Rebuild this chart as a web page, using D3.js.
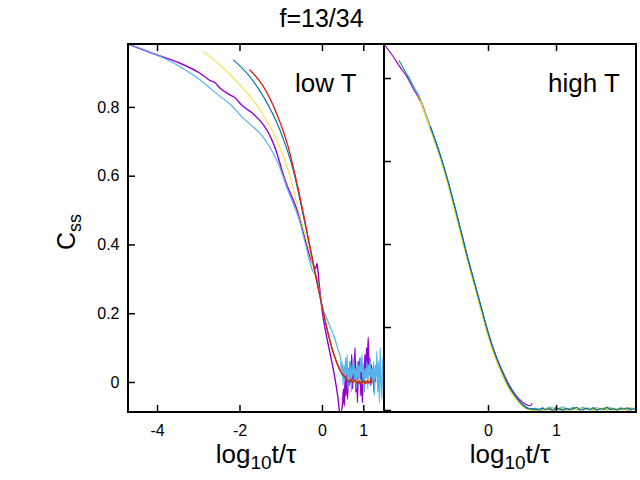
<!DOCTYPE html>
<html>
<head>
<meta charset="utf-8">
<script src="https://cdn.jsdelivr.net/npm/d3@7"></script>
<style>
  body { margin: 0; background: #fff; }
  text { font-family: "Liberation Sans", Arial, Helvetica, sans-serif; fill: #000; }
</style>
</head>
<body>
<script>
// ---- data ----

// left panel (low T), [log10 t/tau, C_ss]
var lowPurple = [
  [-4.70,0.983],[-4.0,0.951],[-3.44,0.927],[-2.96,0.898],[-2.7,0.876],[-2.6,0.871],[-2.47,0.854],
  [-2.2,0.833],[-2.1,0.826],[-1.99,0.811],[-1.85,0.796],[-1.7,0.783],[-1.55,0.766],[-1.42,0.748],
  [-1.3,0.725],[-1.18,0.694],[-1.1,0.668],[-1.02,0.636],[-0.95,0.607],[-0.86,0.575],[-0.7,0.53],
  [-0.55,0.48],[-0.4,0.41],[-0.25,0.35],[-0.15,0.33],[-0.12,0.345],[-0.08,0.30],[0.0,0.21],
  [0.1,0.14],[0.2,0.08],[0.3,0.02],[0.38,-0.04],[0.44,-0.095],
  [0.50,-0.06],[0.52,-0.02],[0.54,-0.07],[0.56,0.01],[0.58,-0.04],[0.60,0.03],[0.62,-0.05],
  [0.64,0.04],[0.66,-0.01],[0.68,0.06],[0.70,0.0],[0.72,0.08],[0.74,-0.02],[0.76,0.05],
  [0.78,0.01],[0.80,0.10],[0.82,-0.03],[0.84,0.04],[0.86,-0.06],[0.88,0.06],[0.90,0.02],
  [0.92,0.07],[0.94,-0.04],[0.96,0.03],[0.98,-0.06],[1.00,0.05],[1.02,0.0],[1.04,0.08],
  [1.06,0.02],[1.08,0.10],[1.10,0.04],[1.12,0.13],[1.14,0.03],[1.16,0.07],[1.18,-0.01],
  [1.20,0.05],[1.22,0.0],[1.24,0.04],[1.26,-0.03],[1.28,0.02],[1.30,0.0]
];
var lowLightBlue = [
  [-4.70,0.983],[-4.0,0.951],[-3.44,0.917],[-2.96,0.879],[-2.47,0.83],[-2.2,0.805],[-1.99,0.777],
  [-1.75,0.75],[-1.5,0.723],[-1.3,0.69],[-1.1,0.646],[-0.95,0.60],[-0.86,0.568],[-0.7,0.52],
  [-0.55,0.47],[-0.4,0.4],[-0.25,0.33],[-0.1,0.29],[0.0,0.22],[0.1,0.19],[0.2,0.16],[0.3,0.13],
  [0.4,0.09],[0.45,0.07],
  [0.47,0.02],[0.49,0.06],[0.51,-0.01],[0.53,0.05],[0.55,0.0],[0.57,0.07],[0.59,0.02],
  [0.61,0.08],[0.63,-0.02],[0.65,0.04],[0.67,0.01],[0.69,0.06],[0.71,-0.03],[0.73,0.05],
  [0.75,0.02],[0.77,0.07],[0.79,0.0],[0.81,0.04],[0.83,-0.02],[0.85,0.06],[0.87,0.01],
  [0.89,0.05],[0.91,-0.01],[0.93,0.07],[0.95,0.03],[0.97,0.08],[0.99,0.0],[1.01,0.05],
  [1.03,-0.03],[1.05,0.04],[1.07,0.01],[1.09,0.06],[1.11,-0.02],[1.13,0.05],[1.15,0.02],
  [1.17,0.07],[1.19,-0.01],[1.21,0.04],[1.23,0.0],[1.25,0.06],[1.27,-0.04],[1.29,0.05],
  [1.31,0.01],[1.33,0.09],[1.35,-0.03],[1.37,0.06],[1.39,-0.06],[1.41,0.10],[1.43,0.0],
  [1.45,-0.05],[1.47,0.07],[1.49,-0.02]
];
var lowYellow = [
  [-2.88,0.961],[-2.47,0.922],[-1.99,0.864],[-1.5,0.791],[-1.1,0.704],[-0.78,0.6],[-0.55,0.49],
  [-0.3,0.38],[-0.15,0.3],[0.0,0.22],[0.15,0.145],[0.3,0.08],[0.45,0.035],[0.6,0.012],
  [0.7,0.006],[0.8,0.0],[0.9,0.008],[1.0,-0.004],[1.1,0.006],[1.2,0.0]
];
var lowDarkBlue = [
  [-2.15,0.937],[-1.82,0.898],[-1.42,0.83],[-1.02,0.733],[-0.7,0.617],[-0.5,0.51],[-0.3,0.395],
  [-0.15,0.305],[0.0,0.22],[0.15,0.14],[0.3,0.075],[0.45,0.03],[0.6,0.008],[0.7,0.0],
  [0.8,0.005],[0.9,-0.004],[1.0,0.004],[1.1,-0.003],[1.2,0.002]
];
var lowRed = [
  [-1.76,0.909],[-1.42,0.859],[-1.1,0.781],[-0.82,0.684],[-0.6,0.575],[-0.45,0.49],[-0.3,0.4],
  [-0.15,0.31],[0.0,0.222],[0.15,0.14],[0.3,0.075],[0.45,0.032],[0.6,0.01],[0.65,0.0],
  [0.7,0.008],[0.75,-0.002],[0.8,0.006],[0.85,-0.004],[0.9,0.003],[0.95,-0.006],[1.0,0.002],
  [1.05,-0.005],[1.1,0.004],[1.15,-0.003],[1.19,0.012],[1.21,-0.004]
];

// right panel (high T)
var highPurple = [
  [-1.53,0.882],[-1.4,0.853],[-1.3,0.828],[-1.2,0.805],[-1.1,0.775],[-1.0,0.745],[-0.9,0.701],
  [-0.8,0.657],[-0.7,0.608],[-0.6,0.555],[-0.5,0.495],[-0.4,0.432],[-0.3,0.368],[-0.2,0.308],
  [-0.1,0.248],[0.0,0.189],[0.1,0.139],[0.2,0.098],[0.3,0.064],[0.4,0.038],[0.5,0.02],
  [0.55,0.014],[0.6,0.011],[0.63,0.01],[0.65,0.017]
];
var tailX = [0.7,0.75,0.8,0.85,0.9,0.95,1.0,1.05,1.1,1.15,1.2,1.25,1.3,1.35,1.4,1.45,1.5,
  1.55,1.6,1.65,1.7,1.75,1.8,1.85,1.9,1.95,2.0,2.05,2.1,2.15,2.18];
var highGreen = [
  [-1.31,0.843],[-1.2,0.81],[-1.1,0.78],[-1.0,0.75],[-0.9,0.705],[-0.8,0.66],[-0.7,0.612],
  [-0.6,0.556],[-0.5,0.495],[-0.4,0.43],[-0.3,0.365],[-0.2,0.305],[-0.1,0.245],[0.0,0.185],
  [0.1,0.135],[0.2,0.095],[0.3,0.06],[0.4,0.035],[0.5,0.015],[0.6,0.004]
];
var highGreenTail = [0.001,0.003,0.0,0.004,0.002,0.005,0.001,0.003,0.0,0.004,0.002,0.006,0.001,
  0.003,0.0,0.004,0.002,0.005,0.001,0.003,0.004,0.0,0.005,0.002,0.003,0.001,0.004,0.002,0.005,0.001,0.003];
var highLightBlue = [
  [-1.17,0.806],[-1.1,0.782],[-1.0,0.752],[-0.9,0.708],[-0.8,0.663],[-0.7,0.615],[-0.6,0.56],
  [-0.5,0.498],[-0.4,0.434],[-0.3,0.368],[-0.2,0.307],[-0.1,0.247],[0.0,0.187],[0.1,0.136],
  [0.2,0.094],[0.3,0.058],[0.4,0.032],[0.5,0.013],[0.6,0.003]
];
var highLightBlueTail = [0.004,0.001,0.006,0.002,0.007,0.003,0.0,0.005,0.008,0.002,0.004,0.001,
  0.006,0.003,0.007,0.001,0.005,0.002,0.006,0.0,0.004,0.007,0.002,0.005,0.001,0.006,0.003,0.004,0.0,0.005,0.002];
var highOrange = [
  [-1.03,0.758],[-1.0,0.748],[-0.9,0.703],[-0.8,0.657],[-0.7,0.608],[-0.6,0.552],[-0.5,0.49],
  [-0.4,0.426],[-0.3,0.361],[-0.2,0.301],[-0.1,0.241],[0.0,0.181],[0.1,0.131],[0.2,0.091],
  [0.3,0.056],[0.4,0.031],[0.5,0.012],[0.6,0.002]
];
var highOrangeTail = [0.0,0.003,-0.001,0.002,0.004,0.0,0.003,0.001,0.005,-0.001,0.002,0.004,0.0,
  0.003,0.001,0.005,0.002,-0.001,0.003,0.004,0.001,0.002,0.005,0.0,0.003,0.001,0.004,-0.001,0.002,0.003,0.0];
var highYellow = [
  [-1.0,0.746],[-0.9,0.7],[-0.8,0.654],[-0.7,0.604],[-0.6,0.548],[-0.5,0.486],[-0.4,0.421],
  [-0.3,0.357],[-0.2,0.297],[-0.1,0.237],[0.0,0.177],[0.1,0.127],[0.2,0.087],[0.3,0.053],
  [0.4,0.028],[0.5,0.01],[0.6,0.0]
];
var highYellowTail = [-0.002,0.002,0.0,0.005,-0.001,0.003,0.006,0.0,0.002,0.004,-0.002,0.003,0.001,
  0.006,0.0,0.002,0.005,-0.001,0.004,0.001,0.006,0.002,0.0,0.004,0.002,0.005,0.0,0.003,0.006,0.001,0.002];
var highDarkBlue = [
  [-0.85,0.683],[-0.8,0.661],[-0.7,0.613],[-0.6,0.558],[-0.5,0.497],[-0.4,0.433],[-0.3,0.367],
  [-0.2,0.307],[-0.1,0.247],[0.0,0.187],[0.1,0.137],[0.2,0.096],[0.3,0.06],[0.4,0.034],
  [0.5,0.014],[0.6,0.003]
];
var highDarkBlueTail = [0.002,0.0,0.004,0.001,0.003,-0.001,0.005,0.002,0.0,0.004,0.001,0.003,0.006,
  0.0,0.002,0.004,0.001,0.005,0.0,0.003,0.002,0.006,0.001,0.003,0.0,0.004,0.002,0.005,0.001,0.003,0.002];

// ticks
var lowXTicks = [-4, -2, 0, 1];
var highXTicks = [0, 1];
var lowYTicks = [0, 0.2, 0.4, 0.6, 0.8];
var lowYTickLabels = ["0", "0.2", "0.4", "0.6", "0.8"];
var highYTicks = [0, 0.2, 0.4, 0.6, 0.8];

// gnuplot-ish colours
var colors = {
  purple: "#9400d3", green: "#009e73", lightBlue: "#56b4e9", orange: "#e69f00",
  yellow: "#f0e442", darkBlue: "#0072b2", red: "#e51e10"
};

// ---- layout ----
var W = 640, H = 480;
var frameTop = 44, frameBottom = 412, frameLeft = 128, frameMid = 384, frameRight = 636;

var svg = d3.select("body").append("svg").attr("width", W).attr("height", H);

var xLow = d3.scaleLinear().domain([-4.703, 1.503]).range([frameLeft, frameMid]);
var yLow = d3.scaleLinear().domain([-0.0873, 0.983]).range([frameBottom, frameTop]);
var xHigh = d3.scaleLinear().domain([-1.529, 2.176]).range([frameMid, frameRight]);
var yHigh = d3.scaleLinear().domain([-0.0048, 0.882]).range([frameBottom, frameTop]);

function withTail(pts, ys) {
  return pts.concat(ys.map(function (y, i) { return [tailX[i], y]; }));
}

function addClip(id, x0, x1) {
  svg.append("clipPath").attr("id", id)
    .append("rect").attr("x", x0).attr("y", frameTop)
    .attr("width", x1 - x0).attr("height", frameBottom - frameTop);
}
addClip("clipLow", frameLeft, frameMid);
addClip("clipHigh", frameMid, frameRight);

function drawLine(g, pts, xs, ys, color, width) {
  var line = d3.line().x(function (d) { return xs(d[0]); }).y(function (d) { return ys(d[1]); })
    .curve(d3.curveMonotoneX);
  g.append("path").datum(pts)
    .attr("d", line)
    .attr("fill", "none")
    .attr("stroke", color)
    .attr("stroke-width", width)
    .attr("stroke-linejoin", "round");
}

var gLow = svg.append("g").attr("clip-path", "url(#clipLow)");
drawLine(gLow, lowPurple, xLow, yLow, colors.purple, 1.4);
drawLine(gLow, lowLightBlue, xLow, yLow, colors.lightBlue, 1.2);
drawLine(gLow, lowYellow, xLow, yLow, colors.yellow, 1.1);
drawLine(gLow, lowDarkBlue, xLow, yLow, colors.darkBlue, 1.1);
drawLine(gLow, lowRed, xLow, yLow, colors.red, 1.3);

var gHigh = svg.append("g").attr("clip-path", "url(#clipHigh)");
drawLine(gHigh, highPurple, xHigh, yHigh, colors.purple, 1.1);
drawLine(gHigh, withTail(highGreen, highGreenTail), xHigh, yHigh, colors.green, 1.1);
drawLine(gHigh, withTail(highLightBlue, highLightBlueTail), xHigh, yHigh, colors.lightBlue, 1.1);
drawLine(gHigh, withTail(highOrange, highOrangeTail), xHigh, yHigh, colors.orange, 1.1);
drawLine(gHigh, withTail(highYellow, highYellowTail), xHigh, yHigh, colors.yellow, 1.1);
drawLine(gHigh, withTail(highDarkBlue, highDarkBlueTail), xHigh, yHigh, colors.darkBlue, 1.2);

// ---- axes ----
function styleAxis(g) {
  g.select(".domain").remove();
  g.selectAll(".tick line").attr("stroke", "#000").attr("stroke-width", 1.5);
  g.selectAll(".tick text").style("font-size", "16px")
    .style("font-family", "'Liberation Sans', Arial, sans-serif").attr("fill", "#000");
}

var intFmt = function (d) { return d < 0 ? "-" + Math.abs(d) : String(d); };

svg.append("g").attr("transform", "translate(0," + frameBottom + ")")
  .call(d3.axisBottom(xLow).tickValues(lowXTicks).tickSize(-7).tickPadding(12.5).tickFormat(intFmt))
  .call(styleAxis);
svg.append("g").attr("transform", "translate(0," + frameTop + ")")
  .call(d3.axisTop(xLow).tickValues(lowXTicks).tickSize(-7).tickFormat(""))
  .call(styleAxis);
svg.append("g").attr("transform", "translate(0," + frameBottom + ")")
  .call(d3.axisBottom(xHigh).tickValues(highXTicks).tickSize(-7).tickPadding(12.5).tickFormat(intFmt))
  .call(styleAxis);
svg.append("g").attr("transform", "translate(0," + frameTop + ")")
  .call(d3.axisTop(xHigh).tickValues(highXTicks).tickSize(-7).tickFormat(""))
  .call(styleAxis);
svg.append("g").attr("transform", "translate(" + frameLeft + ",0)")
  .call(d3.axisLeft(yLow).tickValues(lowYTicks).tickSize(-7).tickPadding(8.5)
    .tickFormat(function (d, i) { return lowYTickLabels[i]; }))
  .call(styleAxis);
svg.append("g").attr("transform", "translate(" + frameMid + ",0)")
  .call(d3.axisLeft(yHigh).tickValues(highYTicks).tickSize(-7).tickFormat(""))
  .call(styleAxis);

// frames
[[frameLeft, frameMid], [frameMid, frameRight]].forEach(function (p) {
  svg.append("rect")
    .attr("x", p[0]).attr("y", frameTop).attr("width", p[1] - p[0]).attr("height", frameBottom - frameTop)
    .attr("fill", "none").attr("stroke", "#000").attr("stroke-width", 2);
});

// ---- text ----
svg.append("text").attr("x", 321.5).attr("y", 27).attr("text-anchor", "middle")
  .style("font-size", "25px").text("f=13/34");

svg.append("text").attr("x", 295).attr("y", 92).style("font-size", "26px").text("low T");
svg.append("text").attr("x", 548).attr("y", 92).style("font-size", "26px").text("high T");

var ylab = svg.append("text")
  .attr("transform", "translate(75,232) rotate(-90)")
  .attr("text-anchor", "middle")
  .style("font-size", "25px");
ylab.append("tspan").text("C");
ylab.append("tspan").attr("dy", 6).style("font-size", "18px").text("ss");

[(frameLeft + frameMid) / 2, (frameMid + frameRight) / 2].forEach(function (cx) {
  var t = svg.append("text").attr("x", cx).attr("y", 463).attr("text-anchor", "middle")
    .style("font-size", "26px");
  t.append("tspan").text("log");
  t.append("tspan").attr("dy", 6).style("font-size", "19px").text("10");
  t.append("tspan").attr("dy", -6).text("t/τ");
});
</script>
</body>
</html>
